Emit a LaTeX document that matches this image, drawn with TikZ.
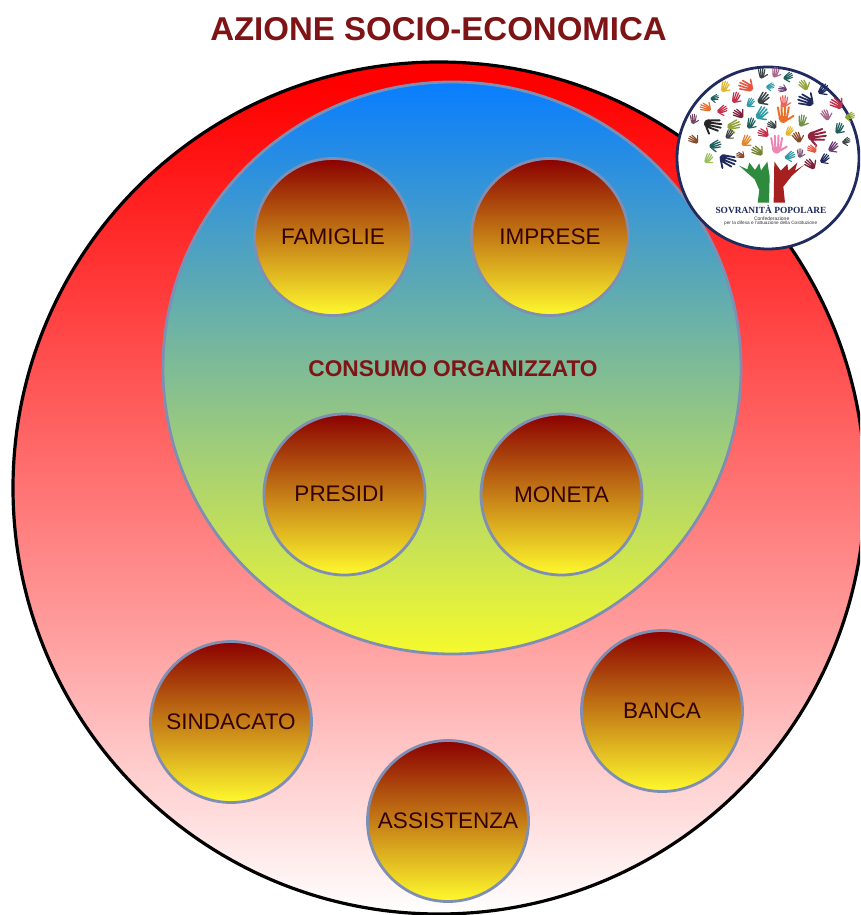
\documentclass[tikz,border=0pt]{standalone}
\usepackage{fontspec}
\setmainfont{Liberation Sans}
\newfontfamily\logoserif{Liberation Serif}
\definecolor{ttl}{HTML}{7E1416}
\definecolor{ring}{HTML}{7F8FB3}
\definecolor{navy}{HTML}{1F2A5E}
\definecolor{dkgray}{HTML}{3C4448}
\definecolor{mauve}{HTML}{A8658A}
\definecolor{dteal}{HTML}{1F5F5C}
\definecolor{coral}{HTML}{E8563F}
\definecolor{gold}{HTML}{E3B52E}
\definecolor{cteal}{HTML}{2F9CA5}
\definecolor{purp}{HTML}{6A3E77}
\definecolor{oliv}{HTML}{93A53A}
\definecolor{crim}{HTML}{C42F4A}
\definecolor{maro}{HTML}{7A1F3A}
\definecolor{orng}{HTML}{E9702C}
\definecolor{pinkh}{HTML}{EE86B4}
\definecolor{lgreen}{HTML}{9DBF5A}
\definecolor{brownh}{HTML}{8A4A2A}
\definecolor{grn}{HTML}{2E8B3E}
\definecolor{redh}{HTML}{A5201F}
\definecolor{bubtop}{HTML}{8B0000}
\definecolor{bubmid}{HTML}{C87D12}
\definecolor{bubbot}{HTML}{FFFA2D}
\definecolor{bigmid}{HTML}{FFA0A0}
\definecolor{intop}{HTML}{087DFF}
\definecolor{inmid}{HTML}{7DB996}
\definecolor{inbot}{HTML}{F5FA2D}
\pgfdeclareverticalshading{bigshade}{100bp}{color(0bp)=(white); color(25bp)=(white); color(41bp)=(bigmid); color(73.5bp)=(red); color(100bp)=(red)}
\newcommand{\hnd}[5]{%
  \begin{scope}[shift={(#1,#2)},rotate=#3,scale=#4*1.8]
    \fill[#5] (-6,-1) .. controls (-7,5) and (-3,8) .. (0,8) .. controls (3,8) and (7,5) .. (6,-1) -- cycle;
    \draw[#5,line width=#4*1.5pt,line cap=round] (-5,-1)--(-7,-12) (-1.8,-1)--(-2.4,-15) (1.8,-1)--(2.4,-15) (5,-1)--(7,-12) (5,4)--(13,-1);
  \end{scope}}
\tikzset{
  bub/.style={circle,draw=ring,line width=2.8pt,inner sep=0pt,minimum size=#1,
    top color=bubtop,middle color=bubmid,bottom color=bubbot,
    text=black!80!red,font=\fontsize{22.5}{26}\selectfont},
}
\begin{document}
\begin{tikzpicture}[x=1pt,y=-1pt]
\useasboundingbox (0,0) rectangle (860,915);
\fill[white] (0,0) rectangle (860,915);
\node (title) at (438.5,29) {\color{ttl}\fontsize{33}{38}\selectfont\bfseries AZIONE SOCIO-ECONOMICA};
\begin{scope}
\clip (0,0) rectangle (860,915);
\path[shading=bigshade] (439,488) circle[radius=426];
\draw[black,line width=3.2pt] (439,488) circle[radius=426];
\end{scope}
\path[draw=ring,line width=2.8pt,top color=intop,middle color=inmid,bottom color=inbot]
  (452,368) ellipse[x radius=289,y radius=286];
\node (cons) at (453,369) {\color{ttl}\fontsize{22.7}{26}\selectfont\bfseries CONSUMO ORGANIZZATO};
\node[bub=157pt] (fam) at (333,237) {FAMIGLIE};
\node[bub=157pt] (imp) at (550,237) {IMPRESE};
\node[bub=161pt] (pre) at (344.5,494.5) {\raisebox{1pt}{\hspace{-10pt}PRESIDI}};
\node[bub=161pt] (mon) at (561.5,494.5) {MONETA};
\node[bub=161pt] (sin) at (231,722) {SINDACATO};
\node[bub=161pt] (ban) at (662,711) {BANCA};
\node[bub=161pt] (ass) at (448,821) {ASSISTENZA};
% logo
\begin{scope}
\clip (0,0) rectangle (860,915);
\draw[navy,fill=white,line width=2.8pt] (768,158) circle[radius=91];
\end{scope}
\begin{scope}[shift={(660,50)},x=.3333pt,y=-.3333pt]
\hnd{305}{75}{0}{.75}{dkgray}
\hnd{345}{72}{-10}{.75}{mauve}
\hnd{380}{82}{-60}{.7}{dteal}
\hnd{265}{112}{70}{1.05}{coral}
\hnd{192}{115}{-20}{.8}{gold}
\hnd{327}{110}{-70}{.6}{cteal}
\hnd{372}{118}{90}{.6}{purp}
\hnd{435}{110}{40}{.8}{oliv}
\hnd{485}{122}{-40}{.85}{navy}
\hnd{225}{148}{-20}{.8}{crim}
\hnd{268}{162}{-30}{.7}{cteal}
\hnd{305}{150}{-40}{.95}{dkgray}
\hnd{372}{160}{0}{.85}{coral!70!pinkh}
\hnd{370}{200}{0}{1.3}{orng}
\hnd{445}{155}{70}{1.15}{navy}
\hnd{535}{165}{60}{.95}{crim}
\hnd{160}{145}{-70}{.6}{dteal}
\hnd{142}{175}{70}{.8}{orng}
\hnd{182}{182}{-60}{.75}{crim}
\hnd{240}{195}{60}{.8}{maro}
\hnd{300}{195}{-40}{1}{cteal}
\hnd{500}{200}{30}{.8}{mauve}
\hnd{565}{200}{-70}{.7}{oliv}
\hnd{100}{212}{0}{.7}{mauve!70!black}
\hnd{150}{222}{-100}{1.25}{black!85}
\hnd{215}{228}{-70}{.95}{oliv}
\hnd{270}{225}{-20}{.8}{dteal}
\hnd{340}{228}{60}{.7}{dkgray}
\hnd{425}{218}{-10}{.85}{oliv!70!dteal}
\hnd{385}{248}{-30}{.7}{gold}
\hnd{462}{258}{-80}{1.3}{maro!70!crim}
\hnd{535}{240}{-20}{.8}{dteal}
\hnd{105}{272}{60}{.75}{brownh}
\hnd{160}{287}{-70}{.85}{dteal}
\hnd{205}{257}{-30}{.7}{dkgray}
\hnd{315}{252}{70}{.8}{crim}
\hnd{415}{267}{30}{.8}{brownh}
\hnd{555}{275}{-60}{.6}{dkgray}
\hnd{255}{277}{-30}{.85}{orng!70!gold}
\hnd{350}{292}{0}{1.3}{pinkh}
\hnd{297}{307}{60}{.85}{oliv!80!black}
\hnd{460}{300}{60}{.7}{coral}
\hnd{515}{295}{-40}{.8}{purp}
\hnd{142}{330}{-30}{.75}{lgreen}
\hnd{195}{327}{-110}{1.2}{navy}
\hnd{245}{318}{70}{.6}{brownh}
\hnd{385}{320}{-60}{.75}{cteal}
\hnd{420}{314}{0}{.65}{mauve!60!dkgray}
\hnd{490}{330}{-40}{.75}{navy}
\hnd{455}{347}{50}{.85}{maro}
% tree hands
\fill[grn] (293,458) -- (298,420) -- (284,388) -- (237,347) -- (262,358) -- (268,338) -- (285,360) -- (298,340) -- (303,362) -- (322,335) -- (329,380) -- (327,458) -- cycle;
\fill[redh] (341,458) -- (343,335) -- (362,362) -- (382,342) -- (385,362) -- (412,338) -- (405,362) -- (432,345) -- (395,378) -- (370,410) -- (375,458) -- cycle;
\node[text=navy,inner sep=0pt] (lg1) at (333,478) {\logoserif\fontsize{9.4}{10}\selectfont\bfseries SOVRANITÀ POPOLARE};
\node[text=black!80,inner sep=0pt] (lg2) at (335,505) {\fontsize{5}{6}\selectfont Confederazione};
\node[text=black!80,inner sep=0pt] (lg3) at (332,519) {\fontsize{4.7}{6}\selectfont per la difesa e l'attuazione della Costituzione};
\end{scope}
\end{tikzpicture}
\end{document}
